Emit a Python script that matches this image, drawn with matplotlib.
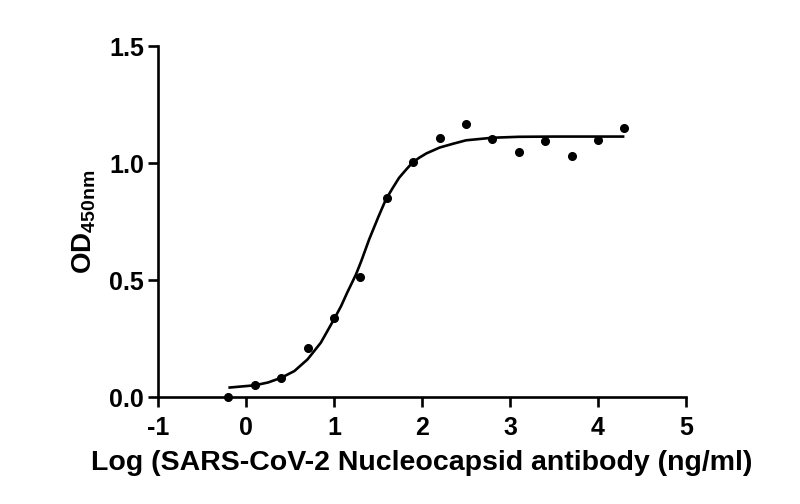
import matplotlib
matplotlib.use('Agg')
import matplotlib.pyplot as plt

plt.rcParams['font.family'] = ['Liberation Sans', 'DejaVu Sans']
plt.rcParams['font.weight'] = 'bold'
plt.rcParams['mathtext.fontset'] = 'custom'
plt.rcParams['mathtext.rm'] = 'Liberation Sans:bold'
plt.rcParams['mathtext.bf'] = 'Liberation Sans:bold'

# puntos medidos (log concentración, OD450)
log_conc = [-0.2, 0.1, 0.4, 0.7, 1.0, 1.3, 1.6, 1.9, 2.2, 2.5, 2.8, 3.1, 3.4, 3.7, 4.0, 4.3]
od = [0.0, 0.05, 0.08, 0.21, 0.336, 0.513, 0.85, 1.004, 1.105, 1.165, 1.104, 1.048, 1.093, 1.03, 1.10, 1.151]

# curva ajustada
curve_x = [-0.2, 0.1, 0.25, 0.4, 0.55, 0.7, 0.85, 1.0, 1.08, 1.15, 1.25, 1.31, 1.4, 1.5, 1.59,
           1.67, 1.74, 1.82, 1.89, 1.97, 2.05, 2.2, 2.35, 2.5, 2.8, 3.1, 3.5, 4.3]
curve_y = [0.040, 0.050, 0.062, 0.082, 0.111, 0.161, 0.232, 0.332, 0.388, 0.446, 0.524, 0.581,
           0.674, 0.766, 0.845, 0.895, 0.937, 0.972, 1.001, 1.023, 1.041, 1.066, 1.082, 1.097,
           1.108, 1.112, 1.113, 1.113]

xticks = [-1, 0, 1, 2, 3, 4, 5]
yticks = [0.0, 0.5, 1.0, 1.5]

fig = plt.figure(figsize=(8, 5.04), dpi=100)
ax = fig.add_axes([0.1975, 0.2123, 0.66, 0.6964])

ax.plot(curve_x, curve_y, color='black', linewidth=1.9, solid_capstyle='butt')
ax.plot(log_conc, od, 'o', color='black', markersize=5.5, clip_on=False, zorder=3)

ax.set_xlim(-1, 5)
ax.set_ylim(0, 1.5)
ax.set_xticks(xticks)
ax.set_xticklabels([str(t) for t in xticks])
ax.set_yticks(yticks)
ax.set_yticklabels(['%.1f' % t for t in yticks])

for s in ['top', 'right']:
    ax.spines[s].set_visible(False)
for s in ['left', 'bottom']:
    ax.spines[s].set_linewidth(1.9)

ax.tick_params(axis='both', direction='out', length=7, width=1.9, labelsize=18)
ax.tick_params(axis='x', pad=7)
ax.tick_params(axis='y', pad=3)

ax.set_xlabel('Log (SARS-CoV-2 Nucleocapsid antibody (ng/ml)', fontsize=20.5, fontweight='bold', labelpad=7)
ax.set_ylabel(r'OD$_{\mathrm{450nm}}$', fontsize=20, fontweight='bold', labelpad=8)

fig.savefig('out.png', dpi=100)
